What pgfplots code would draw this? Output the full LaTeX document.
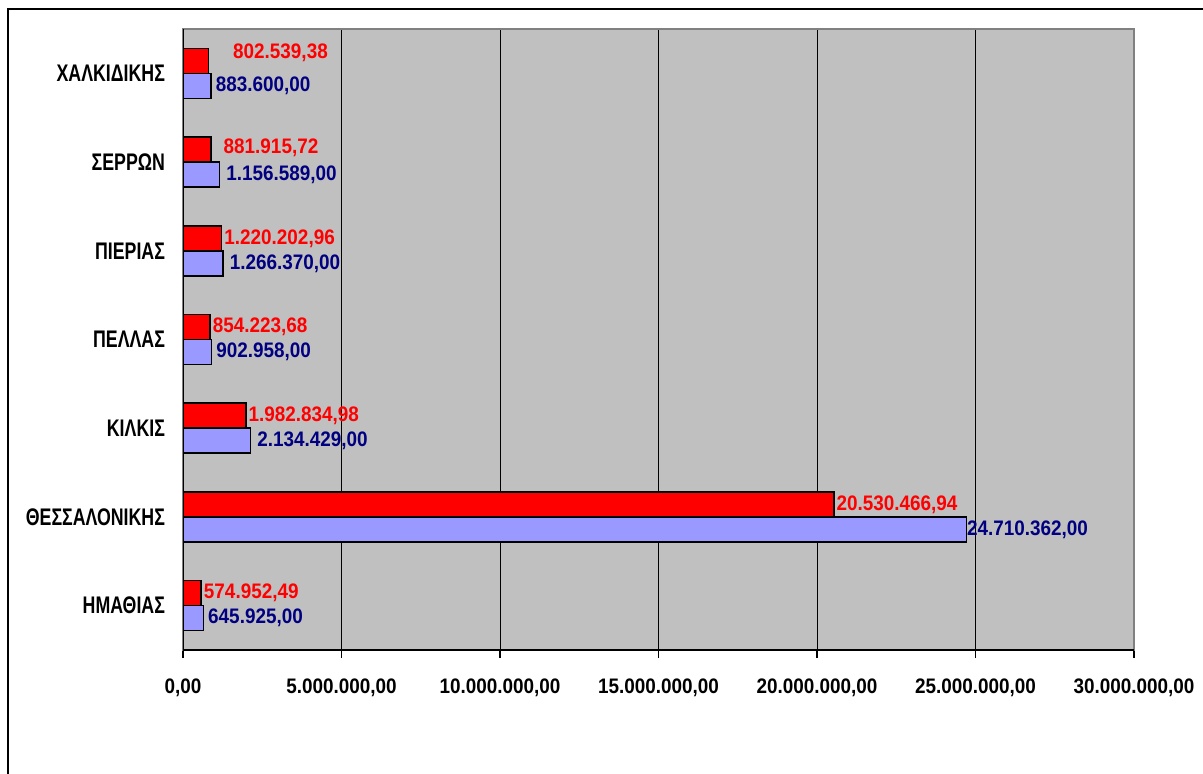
\documentclass[border=0pt]{standalone}
\usepackage{pgfplots}
\usepackage{pgfplotstable}
\pgfplotsset{compat=1.18}
\usepackage{fontspec}
\setmainfont{Liberation Sans}[FakeStretch=0.9]
\newfontfamily\catfont{Liberation Sans}[FakeStretch=0.74]

\definecolor{plotgray}{RGB}{192,192,192}
\definecolor{edgegray}{RGB}{128,128,128}
\definecolor{barred}{RGB}{255,0,0}
\definecolor{barblue}{RGB}{153,153,255}
\definecolor{labnavy}{RGB}{0,0,128}

% y  value  label  dx(pt)  dy(pt)
\pgfplotstableread{
y v1 l1 d1 e1 v2 l2 d2 e2
0 574952.49 574.952,49 1 0 645925.00 645.925,00 2 0
1 20530466.94 20.530.466,94 1 0 24710362.00 24.710.362,00 0 0
2 1982834.98 1.982.834,98 1 0 2134429.00 2.134.429,00 3 0
3 854223.68 854.223,68 1 0 902958.00 902.958,00 2 0
4 1220202.96 1.220.202,96 1 0 1266370.00 1.266.370,00 3 0
5 881915.72 881.915,72 6 1 1156589.00 1.156.589,00 3 0
6 802539.38 802.539,38 12 4 883600.00 883.600,00 2 0
}\datatable

\begin{document}
\begin{tikzpicture}
\useasboundingbox (0,0) rectangle (601.5pt,386.5pt);
\fill[white] (0,0) rectangle (601.5pt,386.5pt);
\draw[line width=1pt] (4pt,-20pt) rectangle (620pt,382pt);
\begin{axis}[
at={(91.5pt,61.5pt)}, anchor=south west,
scale only axis, width=475.5pt, height=310.5pt,
xbar, bar width=12.5pt,
xmin=0, xmax=30000000,
ymin=-0.5, ymax=6.5,
axis background/.style={fill=plotgray},
axis line style={draw=edgegray, line width=0.6pt},
xtick={0,5000000,10000000,15000000,20000000,25000000,30000000},
xticklabels={{0,00},{5.000.000,00},{10.000.000,00},{15.000.000,00},{20.000.000,00},{25.000.000,00},{30.000.000,00}},
scaled x ticks=false,
xmajorgrids, grid style={black, line width=0.5pt},
ytick={0,...,6},
yticklabels={ΗΜΑΘΙΑΣ,ΘΕΣΣΑΛΟΝΙΚΗΣ,ΚΙΛΚΙΣ,ΠΕΛΛΑΣ,ΠΙΕΡΙΑΣ,ΣΕΡΡΩΝ,ΧΑΛΚΙΔΙΚΗΣ},
minor ytick={-0.5,0.5,...,6.5},
tick align=outside, tick pos=left,
major tick length=4pt, minor tick length=4pt,
ytick style={draw=none},
minor tick style={black, line width=0.6pt},
xtick style={black, line width=0.6pt},
xticklabel style={font=\fontsize{10.5}{12}\selectfont\bfseries, yshift=-6.8pt},
yticklabel style={font=\catfont\fontsize{12}{14}\selectfont\bfseries, xshift=-1.5pt},
nodes near coords,
point meta=explicit symbolic,
every node near coord/.append style={anchor=west, inner sep=0pt,
  font=\fontsize{10.5}{12}\selectfont\bfseries},
]
\draw[black, line width=0.8pt] (axis cs:0,-0.5) -- (axis cs:0,6.5);
\draw[black, line width=0.8pt] (axis cs:0,-0.5) -- (axis cs:30000000,-0.5);
\addplot[fill=barred, draw=black, line width=0.75pt, bar shift=6.25pt,
  visualization depends on={\thisrow{d1} \as \dx},
  visualization depends on={\thisrow{e1} \as \dy},
  nodes near coords style={text=barred, xshift=\dx pt, yshift=\dy pt}]
  table[x=v1, y=y, meta=l1] {\datatable};
\addplot[fill=barblue, draw=black, line width=0.75pt, bar shift=-6.25pt,
  visualization depends on={\thisrow{d2} \as \dx},
  visualization depends on={\thisrow{e2} \as \dy},
  nodes near coords style={text=labnavy, xshift=\dx pt, yshift=\dy pt}]
  table[x=v2, y=y, meta=l2] {\datatable};
\end{axis}
\end{tikzpicture}
\end{document}
